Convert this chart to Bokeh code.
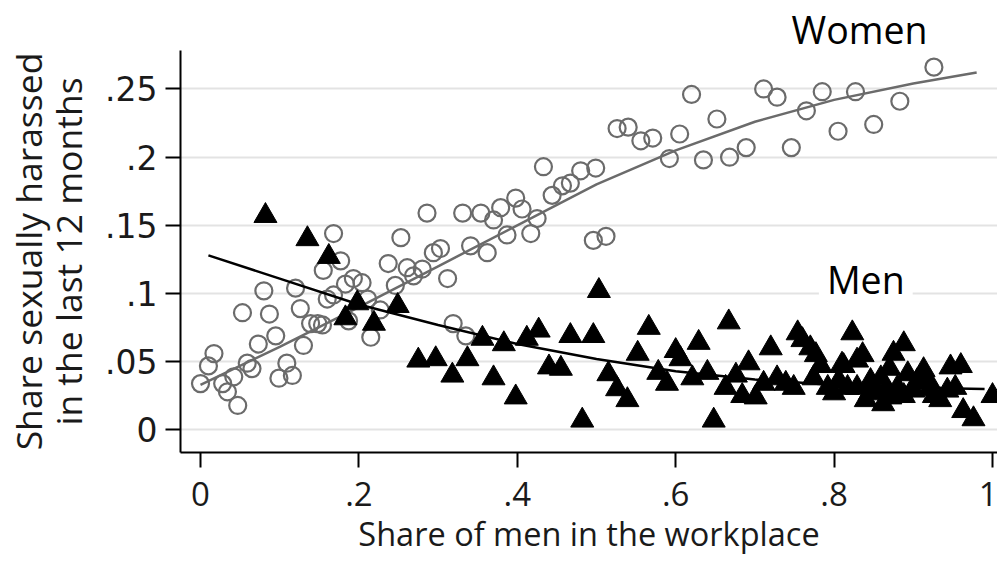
from bokeh.plotting import figure
from bokeh.models import Range1d, FixedTicker, Label, Title
from bokeh.embed import file_html
from bokeh.resources import INLINE

# Women (circles): share of men in workplace, share harassed
women_x = [0.000, 0.010, 0.017, 0.028, 0.034, 0.042, 0.047, 0.053, 0.059, 0.065,
           0.073, 0.080, 0.087, 0.095, 0.099, 0.109, 0.116, 0.120, 0.126, 0.130,
           0.139, 0.148, 0.154, 0.155, 0.160, 0.168, 0.168, 0.177, 0.183, 0.187,
           0.193, 0.204, 0.211, 0.215, 0.227, 0.237, 0.246, 0.253, 0.261, 0.269,
           0.280, 0.286, 0.294, 0.303, 0.312, 0.319, 0.331, 0.335, 0.341, 0.354,
           0.362, 0.370, 0.379, 0.387, 0.398, 0.406, 0.417, 0.425, 0.433, 0.444,
           0.457, 0.467, 0.480, 0.496, 0.499, 0.512, 0.526, 0.540, 0.556, 0.571,
           0.592, 0.605, 0.620, 0.635, 0.652, 0.668, 0.689, 0.711, 0.728, 0.746,
           0.765, 0.785, 0.805, 0.827, 0.850, 0.883, 0.926]
women_y = [0.034, 0.047, 0.056, 0.034, 0.028, 0.039, 0.018, 0.086, 0.049, 0.045,
           0.063, 0.102, 0.085, 0.069, 0.038, 0.049, 0.040, 0.104, 0.089, 0.062,
           0.078, 0.078, 0.077, 0.117, 0.096, 0.099, 0.144, 0.124, 0.107, 0.080,
           0.111, 0.108, 0.096, 0.068, 0.088, 0.122, 0.106, 0.141, 0.119, 0.113,
           0.118, 0.159, 0.130, 0.133, 0.111, 0.078, 0.159, 0.069, 0.135, 0.159,
           0.130, 0.154, 0.163, 0.143, 0.170, 0.162, 0.144, 0.155, 0.193, 0.172,
           0.179, 0.181, 0.190, 0.139, 0.192, 0.142, 0.221, 0.222, 0.212, 0.214,
           0.199, 0.217, 0.246, 0.198, 0.228, 0.200, 0.207, 0.250, 0.244, 0.207,
           0.234, 0.248, 0.219, 0.248, 0.224, 0.241, 0.266]

# Men (triangles)
men_x = [0.082, 0.135, 0.162, 0.183, 0.198, 0.219, 0.249, 0.275, 0.297, 0.318,
         0.337, 0.356, 0.370, 0.383, 0.398, 0.412, 0.427, 0.440, 0.455, 0.467,
         0.482, 0.496, 0.503, 0.515, 0.526, 0.539, 0.552, 0.566, 0.578, 0.589,
         0.600, 0.606, 0.621, 0.629, 0.640, 0.648, 0.667, 0.663, 0.676, 0.684,
         0.692, 0.701, 0.711, 0.720, 0.728, 0.739, 0.749, 0.754, 0.760, 0.770,
         0.777, 0.783, 0.774, 0.792, 0.800, 0.806, 0.810, 0.812, 0.823, 0.829,
         0.836, 0.817, 0.829, 0.840, 0.845, 0.846, 0.852, 0.859, 0.862, 0.866,
         0.870, 0.871, 0.875, 0.888, 0.880, 0.888, 0.893, 0.900, 0.905, 0.913,
         0.919, 0.920, 0.926, 0.934, 0.943, 0.947, 0.960, 0.953, 0.963, 0.976,
         1.000]
men_y = [0.157, 0.140, 0.127, 0.082, 0.093, 0.078, 0.091, 0.051, 0.052, 0.040,
         0.052, 0.067, 0.038, 0.063, 0.024, 0.067, 0.073, 0.046, 0.045, 0.069,
         0.007, 0.069, 0.102, 0.041, 0.030, 0.022, 0.056, 0.075, 0.042, 0.034,
         0.058, 0.052, 0.038, 0.064, 0.042, 0.007, 0.079, 0.031, 0.040, 0.025,
         0.049, 0.024, 0.034, 0.060, 0.038, 0.034, 0.031, 0.071, 0.066, 0.060,
         0.055, 0.047, 0.038, 0.031, 0.027, 0.036, 0.048, 0.047, 0.071, 0.051,
         0.055, 0.031, 0.031, 0.022, 0.027, 0.036, 0.029, 0.038, 0.019, 0.030,
         0.045, 0.024, 0.056, 0.063, 0.031, 0.025, 0.041, 0.029, 0.036, 0.044,
         0.036, 0.030, 0.025, 0.022, 0.029, 0.046, 0.047, 0.031, 0.014, 0.008,
         0.025]

# Fitted curves
women_fit_x = [0.0, 0.1, 0.2, 0.3, 0.4, 0.5, 0.6, 0.7, 0.8, 0.9, 0.98]
women_fit_y = [0.033, 0.061, 0.090, 0.120, 0.150, 0.180, 0.205, 0.226, 0.242, 0.254, 0.262]
men_fit_x = [0.01, 0.1, 0.2, 0.3, 0.4, 0.5, 0.6, 0.7, 0.8, 0.9, 0.99]
men_fit_y = [0.128, 0.111, 0.092, 0.077, 0.063, 0.052, 0.043, 0.037, 0.033, 0.031, 0.030]

x_ticks = [0, 0.2, 0.4, 0.6, 0.8, 1.0]
x_tick_labels = ["0", ".2", ".4", ".6", ".8", "1"]
y_ticks = [0, 0.05, 0.1, 0.15, 0.2, 0.25]
y_tick_labels = ["0", ".05", ".1", ".15", ".2", ".25"]

p = figure(width=997, height=558, output_backend="svg", toolbar_location=None,
           x_range=Range1d(-0.02525, 1.00631), y_range=Range1d(-0.0165, 0.2782),
           min_border_left=180, min_border_right=0, min_border_top=50, min_border_bottom=106)
p.outline_line_color = None
p.background_fill_color = "white"
p.border_fill_color = "white"

p.xgrid.grid_line_color = None
p.ygrid.grid_line_color = "#e3e3e3"
p.ygrid.grid_line_width = 2
p.ygrid.ticker = FixedTicker(ticks=y_ticks)

p.xaxis.ticker = FixedTicker(ticks=x_ticks)
p.xaxis.major_label_overrides = {t: l for t, l in zip(x_ticks, x_tick_labels)}
p.yaxis.ticker = FixedTicker(ticks=y_ticks)
p.yaxis.major_label_overrides = {t: l for t, l in zip(y_ticks, y_tick_labels)}

for ax in (p.xaxis[0], p.yaxis[0]):
    ax.axis_line_color = "black"
    ax.axis_line_width = 2
    ax.major_tick_line_color = "black"
    ax.major_tick_line_width = 2
    ax.major_tick_out = 15
    ax.major_tick_in = 0
    ax.minor_tick_line_color = None
    ax.major_label_text_color = "#1a1a1a"
    ax.axis_label_text_color = "#1a1a1a"
    ax.axis_label_text_font_style = "normal"

p.xaxis.major_label_text_font = "Open Sans"
p.xaxis.major_label_text_font_size = "33px"
p.xaxis.major_label_standoff = 14
p.xaxis.axis_label = "Share of men in the workplace"
p.xaxis.axis_label_text_font = "Open Sans"
p.xaxis.axis_label_text_font_size = "32.5px"
p.xaxis.axis_label_standoff = 2

p.yaxis.major_label_text_font = "DejaVu Sans"
p.yaxis.major_label_text_font_size = "33px"
p.yaxis.major_label_standoff = 8
p.yaxis.major_label_orientation = "horizontal"
p.yaxis.axis_label = "Share sexually harassed\nin the last 12 months"
p.yaxis.axis_label_text_font = "Open Sans"
p.yaxis.axis_label_text_font_size = "35.5px"
p.yaxis.axis_label_text_line_height = 0.83
p.yaxis.axis_label_standoff = 10

p.scatter(women_x, women_y, marker="circle", size=17, fill_color=None,
          line_color="#6b6b6b", line_width=2.2)
p.line(women_fit_x, women_fit_y, line_color="#6b6b6b", line_width=2.5)
p.scatter(men_x, men_y, marker="triangle", size=23, fill_color="black",
          line_color="black", line_width=1)
p.line(men_fit_x, men_fit_y, line_color="black", line_width=2.5)

# "Women" sits above the plotting area, so it is drawn as the plot title
p.add_layout(Title(text="Women", align="left", offset=611, standoff=-8,
                   vertical_align="bottom", text_font="Open Sans",
                   text_font_size="37.5px", text_font_style="normal",
                   text_color="black"), "above")
p.add_layout(Label(x=0.84, y=0.1104, text="Men", text_align="center",
                   text_baseline="alphabetic", text_font="Open Sans",
                   text_font_size="37.5px", text_color="black",
                   background_fill_color="white", padding=8))

open("out.html", "w").write(file_html(p, INLINE))
